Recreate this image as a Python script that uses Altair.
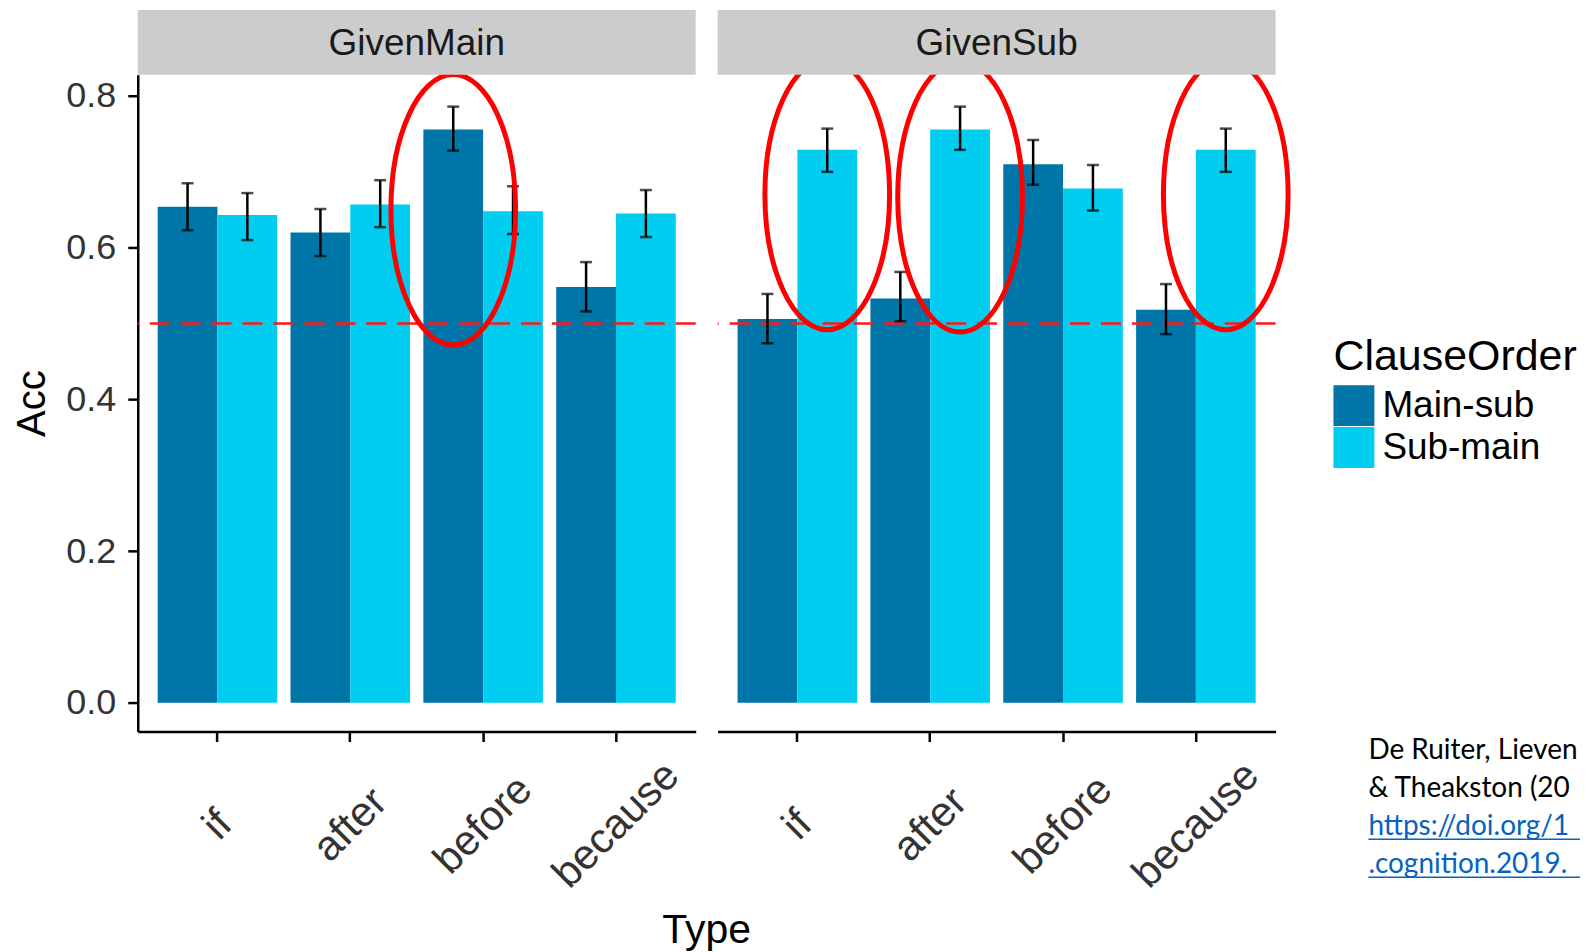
import altair as alt
import pandas as pd

givens = ["GivenMain", "GivenSub"]
types = ["if", "after", "before", "because"]
orders = ["Main-sub", "Sub-main"]

# mean accuracy and error-bar limits, per Type (if, after, before, because)
acc_gm_ms = [0.654, 0.620, 0.756, 0.548]
lo_gm_ms = [0.623, 0.589, 0.728, 0.516]
hi_gm_ms = [0.685, 0.651, 0.786, 0.581]
acc_gm_sm = [0.643, 0.657, 0.648, 0.645]
lo_gm_sm = [0.610, 0.627, 0.618, 0.614]
hi_gm_sm = [0.672, 0.689, 0.681, 0.676]
acc_gs_ms = [0.506, 0.533, 0.710, 0.518]
lo_gs_ms = [0.474, 0.503, 0.683, 0.486]
hi_gs_ms = [0.539, 0.568, 0.742, 0.552]
acc_gs_sm = [0.729, 0.756, 0.678, 0.729]
lo_gs_sm = [0.700, 0.729, 0.649, 0.700]
hi_gs_sm = [0.757, 0.786, 0.709, 0.757]

# highlighted bars (Given, Type, ClauseOrder) and ellipse centre (Acc units)
circled = [("GivenMain", "before", "Main-sub"), ("GivenSub", "if", "Sub-main"),
           ("GivenSub", "after", "Sub-main"), ("GivenSub", "because", "Sub-main")]
circle_center = [0.650, 0.670, 0.667, 0.670]

chance_level = [0.5]
x_title = "Type"
citation_black = ["De Ruiter, Lieven, Brandt", "& Theakston (2020)"]
citation_blue = ["https://doi.org/10.1016/j", ".cognition.2019.104130"]

series = {
    ("GivenMain", "Main-sub"): (acc_gm_ms, lo_gm_ms, hi_gm_ms),
    ("GivenMain", "Sub-main"): (acc_gm_sm, lo_gm_sm, hi_gm_sm),
    ("GivenSub", "Main-sub"): (acc_gs_ms, lo_gs_ms, hi_gs_ms),
    ("GivenSub", "Sub-main"): (acc_gs_sm, lo_gs_sm, hi_gs_sm),
}
rows = []
for g in givens:
    for o in orders:
        a, lo, hi = series[(g, o)]
        for i, t in enumerate(types):
            key = (g, t, o)
            c = circle_center[circled.index(key)] if key in circled else -1.0
            rows.append({"Given": g, "Type": t, "ClauseOrder": o, "Acc": a[i],
                         "lo": lo[i], "hi": hi[i], "circ": c,
                         "anchor": 1 if (t == "if" and o == "Main-sub") else 0})
df = pd.DataFrame(rows)

W, H = 559, 658
DARK, LIGHT = "#0076a8", "#00cdef"
FONT = "Liberation Sans"

x_enc = alt.X("Type:N",
              scale=alt.Scale(domain=types, paddingInner=0.1, paddingOuter=0.15),
              axis=alt.Axis(title=None, labelAngle=315, labelAlign="center",
                            labelBaseline="middle", labelPadding=83,
                            labelFontSize=42, labelColor="#333333",
                            labelOverlap=False, labelBound=False,
                            tickSize=10, tickWidth=2.5, tickColor="black",
                            domainColor="black", domainWidth=2.5, grid=False))
xo_enc = alt.XOffset("ClauseOrder:N",
                     scale=alt.Scale(domain=orders, paddingInner=0, paddingOuter=0))
y_scale = alt.Scale(domain=[-0.038, 0.828], nice=False, zero=False)

bars = alt.Chart().mark_bar(strokeWidth=0).encode(
    x=x_enc, xOffset=xo_enc,
    y=alt.Y("Acc:Q", scale=y_scale,
            axis=alt.Axis(title="Acc", values=[0, 0.2, 0.4, 0.6, 0.8], format=".1f",
                          labelFontSize=36, labelColor="#333333", labelPadding=12,
                          tickSize=10, tickWidth=2.5, tickColor="black",
                          domainColor="black", domainWidth=2.5, grid=False,
                          titleFontSize=40, titleFontWeight="normal",
                          titleColor="black", titlePadding=13)),
    y2=alt.datum(0),
    color=alt.Color("ClauseOrder:N",
                    scale=alt.Scale(domain=orders, range=[DARK, LIGHT]),
                    legend=alt.Legend(title="ClauseOrder", orient="none",
                                      legendX=1198, legendY=262,
                                      titleFontSize=43, titleFontWeight="normal",
                                      titleColor="black", labelFontSize=37,
                                      labelColor="black", symbolType="square",
                                      symbolSize=1681, symbolStrokeWidth=0,
                                      titleLimit=600, labelLimit=600,
                                      rowPadding=1, titlePadding=6, labelOffset=8)),
)

chance = alt.Chart().mark_rule(color="#ff1a1a", strokeWidth=2.5, strokeDash=[20, 11]).encode(
    y=alt.datum(chance_level[0])
).transform_filter("datum.anchor == 1")

err_line = alt.Chart().mark_rule(color="black", strokeWidth=2.5).encode(
    x=x_enc, xOffset=xo_enc, y="lo:Q", y2="hi:Q")
err_lo = alt.Chart().mark_tick(color="black", thickness=2.5, size=12).encode(
    x=x_enc, xOffset=xo_enc, y="lo:Q")
err_hi = alt.Chart().mark_tick(color="black", thickness=2.5, size=12).encode(
    x=x_enc, xOffset=xo_enc, y="hi:Q")

ellipse_path = ("M 0.461 0 C 0.461 0.5523 0.2546 1 0 1 C -0.2546 1 -0.461 0.5523 -0.461 0 "
                "C -0.461 -0.5523 -0.2546 -1 0 -1 C 0.2546 -1 0.461 -0.5523 0.461 0 Z")
ellipses = alt.Chart().mark_point(shape=ellipse_path, size=271 * 271, filled=False,
                                  stroke="#ff0000", strokeWidth=5, opacity=1).encode(
    x=x_enc, xOffset=xo_enc, y="circ:Q"
).transform_filter("datum.circ > 0")

strip_bg = alt.Chart().mark_rect(color="#cccccc").encode(
    x=alt.value(0), x2=alt.value(W), y=alt.value(-65), y2=alt.value(0)
).transform_filter("datum.anchor == 1")
strip_txt = alt.Chart().mark_text(fontSize=37, color="#1a1a1a", baseline="middle").encode(
    x=alt.value(W / 2), y=alt.value(-31), text="Given:N"
).transform_filter("datum.anchor == 1")

main_only = "datum.anchor == 1 && datum.Given == 'GivenMain'"
sub_only = "datum.anchor == 1 && datum.Given == 'GivenSub'"

type_title = alt.Chart().mark_text(fontSize=41, color="black", baseline="middle").encode(
    x=alt.value(W + 11), y=alt.value(858), text=alt.value(x_title)
).transform_filter(main_only)

cite_black = alt.Chart().mark_text(align="left", baseline="alphabetic", fontSize=28,
                                   font="Lato", color="black", lineHeight=38,
                                   limit=214, ellipsis="\u200b").encode(
    x=alt.value(652), y=alt.value(686), text=alt.value(citation_black)
).transform_filter(sub_only)
cite_blue = alt.Chart().mark_text(align="left", baseline="alphabetic", fontSize=28,
                                  font="Lato", color="#0563c1", lineHeight=38,
                                  limit=214, ellipsis="\u200b").encode(
    x=alt.value(652), y=alt.value(762), text=alt.value(citation_blue)
).transform_filter(sub_only)
ul1 = alt.Chart().mark_rule(color="#0563c1", strokeWidth=1.5).encode(
    x=alt.value(652), x2=alt.value(864), y=alt.value(766)
).transform_filter(sub_only)
ul2 = alt.Chart().mark_rule(color="#0563c1", strokeWidth=1.5).encode(
    x=alt.value(652), x2=alt.value(864), y=alt.value(804)
).transform_filter(sub_only)

layered = alt.layer(bars, chance, err_line, err_lo, err_hi, ellipses,
                    strip_bg, strip_txt, type_title, cite_black, cite_blue, ul1, ul2,
                    data=df).properties(width=W, height=H)

chart = layered.facet(
    column=alt.Column("Given:N", header=alt.Header(labels=False, title=None)),
    spacing=22,
    bounds="flush",
).properties(
    padding={"left": 4, "top": 1, "right": 0, "bottom": 0}
).configure(font=FONT).configure_view(stroke=None)

chart.save("out.html", embed_options={"renderer": "svg", "actions": False})
